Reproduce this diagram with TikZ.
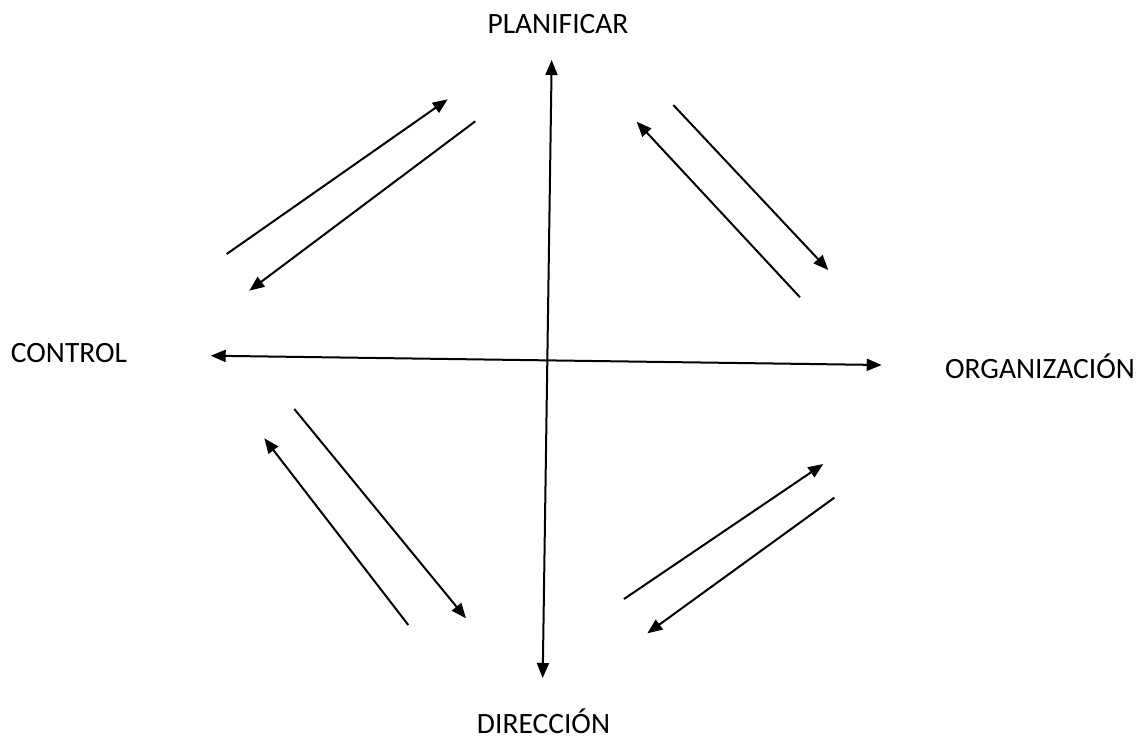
\documentclass[tikz,border=0pt]{standalone}
\usepackage{fontspec}
\setmainfont{Carlito}
\usetikzlibrary{arrows.meta,positioning}

\begin{document}
\begin{tikzpicture}[
  x=0.5pt, y=-0.5pt, >={Triangle[length=7.5pt,width=6pt]},
  flow/.style={->, line width=1pt, black},
  both/.style={<->, line width=1pt, black},
  stage/.style={inner sep=0pt, font=\fontsize{14.75}{17}\selectfont},
]
  \useasboundingbox (0,0) rectangle (1137,735);

  % the four stages
  \node[stage] (plan) at (558,24) {PLANIFICAR};
  \node[stage] (ctrl) at (69,353.5) {CONTROL};
  \node[stage] (org)  at (1040,366.5) {ORGANIZACIÓN};
  \node[stage] (dir)  at (543.5,721.5) {DIRECCIÓN};

  % end points of the axes
  \coordinate (vtop) at (551.7,60);
  \coordinate (vbot) at (542.7,678);
  \coordinate (hlft) at (210.7,355.7);
  \coordinate (hrgt) at (881.7,365);

  % end points of the paired arrows
  \coordinate (a1) at (226.7,254);   \coordinate (a2) at (447.7,99.3);
  \coordinate (b1) at (475.3,121.3); \coordinate (b2) at (249.3,290.7);
  \coordinate (c1) at (673.3,105);   \coordinate (c2) at (828.3,270);
  \coordinate (d1) at (800,297.3);   \coordinate (d2) at (636.7,121.7);
  \coordinate (e1) at (294.3,409);   \coordinate (e2) at (466,618.3);
  \coordinate (f1) at (408.3,625);   \coordinate (f2) at (264.3,438.3);
  \coordinate (g1) at (624,599);     \coordinate (g2) at (823.3,464);
  \coordinate (h1) at (834.3,497.7); \coordinate (h2) at (647.3,633.3);

  \draw[both] (vtop) -- (vbot);
  \draw[both] (hlft) -- (hrgt);

  \draw[flow] (a1) -- (a2);
  \draw[flow] (b1) -- (b2);
  \draw[flow] (c1) -- (c2);
  \draw[flow] (d1) -- (d2);
  \draw[flow] (e1) -- (e2);
  \draw[flow] (f1) -- (f2);
  \draw[flow] (g1) -- (g2);
  \draw[flow] (h1) -- (h2);
\end{tikzpicture}
\end{document}
